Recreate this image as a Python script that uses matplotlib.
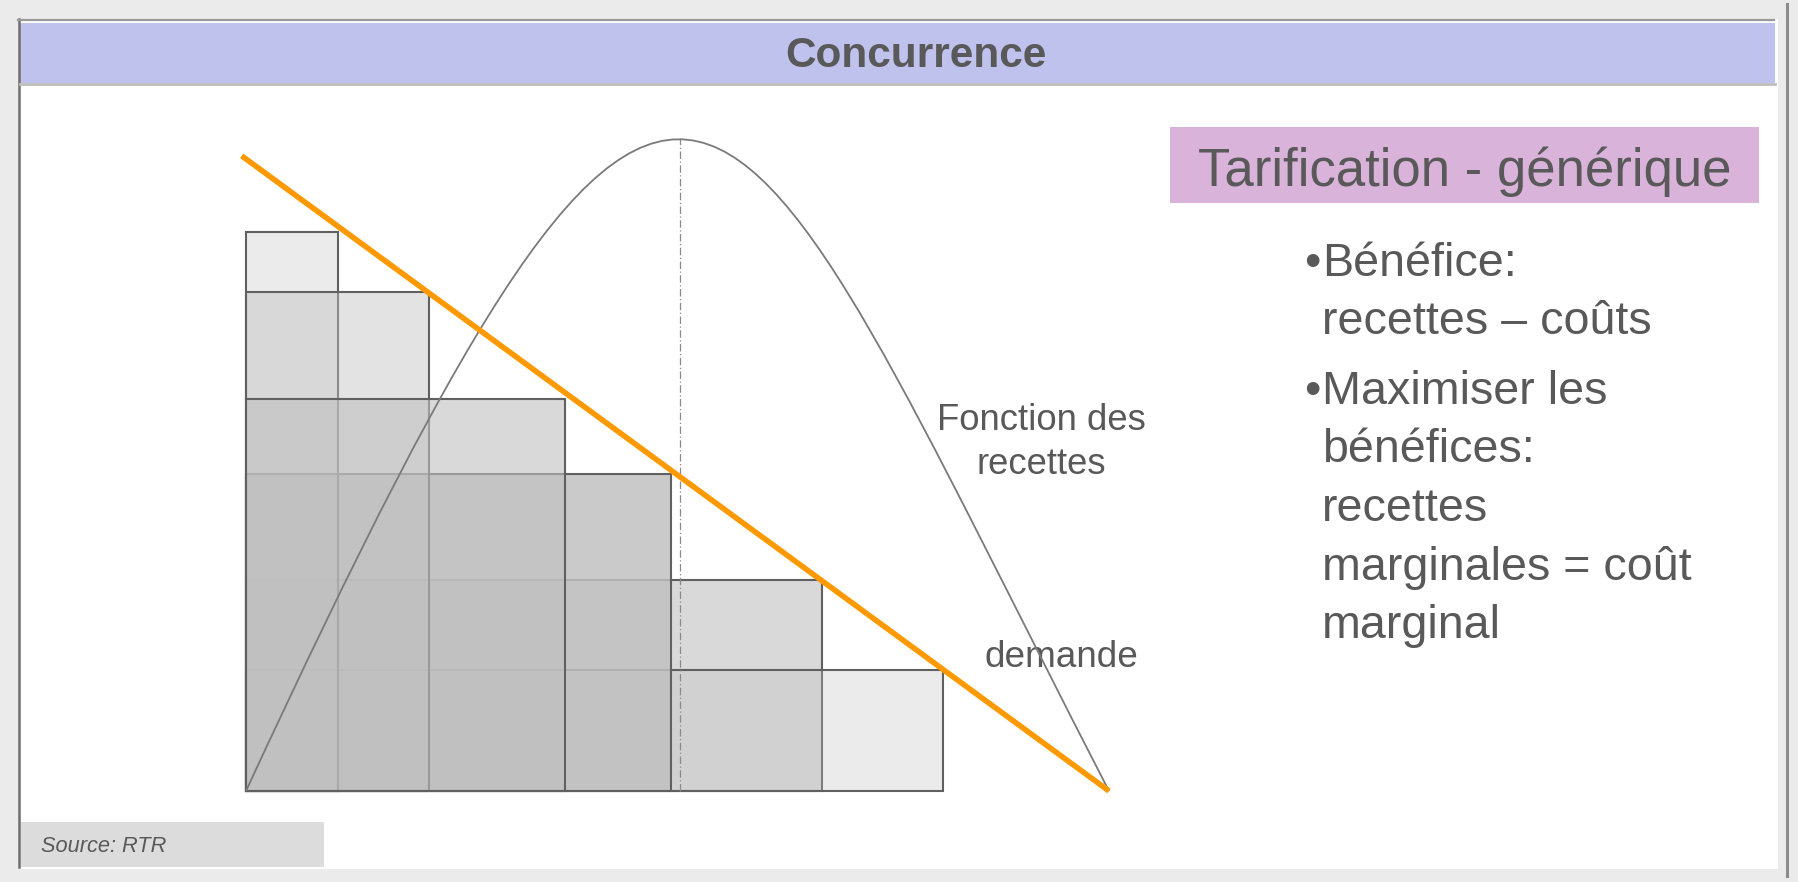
import matplotlib
matplotlib.use("Agg")
import matplotlib.pyplot as plt
from matplotlib.patches import Rectangle, PathPatch
from matplotlib.path import Path

plt.rcParams['font.family'] = ['Liberation Sans', 'DejaVu Sans']

# --- data (quantity / price units) ---
quantity = [1.07, 2.12, 3.70, 4.92, 6.68, 8.08]
price = [8.84, 7.89, 6.21, 5.01, 3.34, 1.91]

demand_q = [-0.05, 10.0]
demand_p = [10.05, 0.0]

# revenue curve as a cubic bezier (start, 2 control points, end)
revenue_q = [0.0, 5.2, 5.45, 10.0]
revenue_p = [0.0, 15.34, 12.06, 0.0]
peak_q = 5.03
peak_p = 10.33

title = "Concurrence"
box_title = "Tarification - générique"
bullets = [
    ["Bénéfice:", "recettes – coûts"],
    ["Maximiser les", "bénéfices:", "recettes", "marginales = coût", "marginal"],
]
source = "Source: RTR"

# styles
shade_alpha = [0.30, 0.43, 0.60, 0.83, 0.60, 0.30]
draw_order = [4, 5, 3, 0, 1, 2]
txt = '#595959'

W, H = 1799, 882
fig = plt.figure(figsize=(W / 100, H / 100), dpi=100)
fig.patch.set_facecolor('#ebebeb')

# background frame in pixel coords
bg = fig.add_axes([0, 0, 1, 1])
bg.set_xlim(0, W)
bg.set_ylim(H, 0)
bg.axis('off')
bg.add_patch(Rectangle((20, 19), 1758, 850, fc='white', ec='none'))
bg.plot([19.5, 19.5], [19, 867], color='#6e6e6e', lw=1.8)
bg.plot([18, 1774], [20, 20], color='#9a9a9a', lw=1.6)
bg.plot([1787.5, 1787.5], [4, 876], color='#8c8c8c', lw=2.2)
bg.add_patch(Rectangle((20, 23), 1755, 60, fc='#c0c2ee', ec='none'))
bg.plot([20, 1775], [84, 84], color='#bdbdbd', lw=2)
bg.text(916, 67, title, ha='center', va='baseline', fontsize=30.5,
        fontweight='bold', color=txt)

bg.add_patch(Rectangle((1170, 127), 589, 76, fc='#d9b3da', ec='none'))
bg.text(1464.5, 186, box_title, ha='center', va='baseline', fontsize=38, color=txt)

y = 276
for para in bullets:
    bg.text(1304, y, "•", ha='left', va='baseline', fontsize=33.6, color=txt)
    for line in para:
        bg.text(1322, y, line, ha='left', va='baseline', fontsize=33.6, color=txt)
        y += 58.5
    y += 11

bg.add_patch(Rectangle((21, 822), 303, 45, fc='#dcdcdc', ec='none'))
bg.text(41, 852.5, source, ha='left', va='baseline', fontsize=15.7,
        style='italic', color=txt)

# chart axes: origin at pixel (246, 791), 86.3 px per q unit, 63.2 px per p unit
left, right, top, bottom = 200, 1150, 100, 830
ax = fig.add_axes([left / W, (H - bottom) / H, (right - left) / W, (bottom - top) / H])
ax.set_xlim((left - 246) / 86.3, (right - 246) / 86.3)
ax.set_ylim((791 - bottom) / 63.2, (791 - top) / 63.2)
ax.axis('off')
ax.patch.set_alpha(0)

for z, i in enumerate(draw_order):
    ax.add_patch(Rectangle((0, 0), quantity[i], price[i],
                           fc=(0.753, 0.753, 0.753, shade_alpha[i]),
                           ec='#606060', lw=1.5, zorder=2 + z))

ax.plot([peak_q, peak_q], [0, peak_p], color='#8a8a8a', lw=0.9,
        ls=(0, (6, 2, 1, 2)), zorder=20)

rev_path = Path(list(zip(revenue_q, revenue_p)),
                [Path.MOVETO, Path.CURVE4, Path.CURVE4, Path.CURVE4])
ax.add_patch(PathPatch(rev_path, fc='none', ec='#7a7a7a', lw=1.3, zorder=21))

ax.plot(demand_q, demand_p, color='#ff9900', lw=4, solid_capstyle='butt', zorder=22)

bg.text(1041, 430, "Fonction des", ha='center', va='baseline', fontsize=26.3, color=txt)
bg.text(1041, 474, "recettes", ha='center', va='baseline', fontsize=26.3, color=txt)
bg.text(1061, 667, "demande", ha='center', va='baseline', fontsize=26.6, color=txt)

fig.savefig("out.png", dpi=100, facecolor=fig.get_facecolor())
